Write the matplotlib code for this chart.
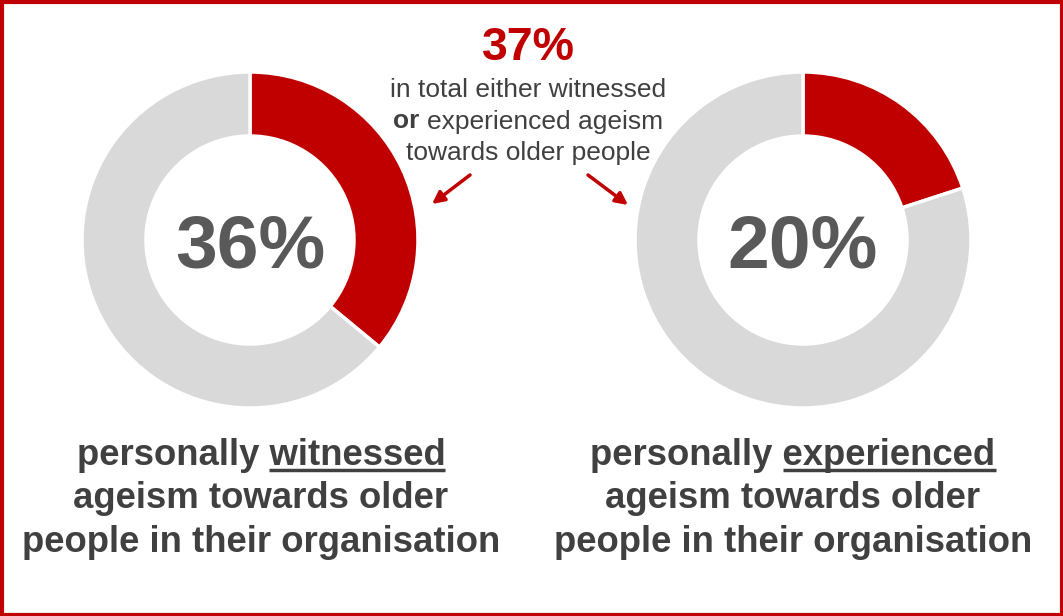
import matplotlib
matplotlib.use("Agg")
import matplotlib.pyplot as plt
from matplotlib.patches import Rectangle, FancyArrowPatch

plt.rcParams['font.family'] = ['Liberation Sans', 'DejaVu Sans']

# Data
labels_main = ["witnessed", "experienced"]
values = [36, 20]           # percent
total_value = 37
total_lines = ["in total either witnessed", "experienced ageism", "towards older people"]
bottom_prefix = "personally "
bottom_rest = ["ageism towards older", "people in their organisation"]

RED = "#C00000"
GREY = "#D9D9D9"
DARK = "#404040"
NUM = "#595959"

W, H = 1063, 616
fig = plt.figure(figsize=(W / 100, H / 100), dpi=100)
ax = fig.add_axes([0, 0, 1, 1])
ax.set_xlim(0, W)
ax.set_ylim(H, 0)
ax.set_aspect('equal')
ax.axis('off')

centers = [(250, 240), (803, 240)]
label_x = [261, 793]
R = 168
for (cx, cy), v in zip(centers, values):
    ax.pie([v, 100 - v], colors=[RED, GREY], startangle=-90, counterclock=True,
           center=(cx, cy), radius=R,
           wedgeprops=dict(width=64, edgecolor='white', linewidth=2.5))
    ax.text(cx, 267, f"{v}%", ha='center', va='baseline', fontsize=54,
            fontweight='bold', color=NUM)

ax.set_xlim(0, W)
ax.set_ylim(H, 0)

# Border
ax.add_patch(Rectangle((1.5, 1.5), W - 3, H - 3, fill=False, edgecolor=RED,
                       linewidth=3, zorder=10))

# Top annotation
TS = 19
ax.text(528, 60, f"{total_value}%", ha='center', va='baseline', fontsize=33.5,
        fontweight='bold', color=RED)
ax.text(528, 97, total_lines[0], ha='center', va='baseline', fontsize=TS, color=DARK)
fig.canvas.draw()
r = fig.canvas.get_renderer()
t_or = ax.text(0, 0, "or ", fontsize=TS, fontweight='bold', color=DARK)
t_rest = ax.text(0, 0, total_lines[1], fontsize=TS, color=DARK)
w_or = t_or.get_window_extent(r).width
w_rest = t_rest.get_window_extent(r).width
t_or.remove(); t_rest.remove()
x0 = 528 - (w_or + w_rest) / 2
ax.text(x0, 128.5, "or", ha='left', va='baseline', fontsize=TS, fontweight='bold', color=DARK)
ax.text(x0 + w_or, 128.5, total_lines[1], ha='left', va='baseline', fontsize=TS, color=DARK)
ax.text(528, 160, total_lines[2], ha='center', va='baseline', fontsize=TS, color=DARK)

# Arrows
for (xs, ys, xe, ye) in [(470, 175, 432, 204), (588, 175, 628, 205)]:
    ax.add_patch(FancyArrowPatch((xs, ys), (xe, ye), arrowstyle='-|>',
                                 mutation_scale=18, color=RED, linewidth=2.5,
                                 shrinkA=0, shrinkB=0))

# Bottom labels
FS = 26.3
for lx, word in zip(label_x, labels_main):
    line1 = bottom_prefix + word
    t1 = ax.text(lx, 465, line1, ha='center', va='baseline', fontsize=FS,
                 fontweight='bold', color=DARK)
    fig.canvas.draw()
    bb = t1.get_window_extent(r)
    tw = ax.text(0, 0, word, fontsize=FS, fontweight='bold')
    ww = tw.get_window_extent(r).width
    tw.remove()
    inv = ax.transData.inverted()
    (xa, _), (xb, _) = inv.transform([(bb.x1 - ww, 0), (bb.x1, 0)])
    ax.plot([xa, xb], [470, 470], color=DARK, linewidth=2.5, solid_capstyle='butt')
    ax.text(lx, 508.5, bottom_rest[0], ha='center', va='baseline', fontsize=FS,
            fontweight='bold', color=DARK)
    ax.text(lx, 552, bottom_rest[1], ha='center', va='baseline', fontsize=FS,
            fontweight='bold', color=DARK)

fig.savefig("out.png", dpi=100)
